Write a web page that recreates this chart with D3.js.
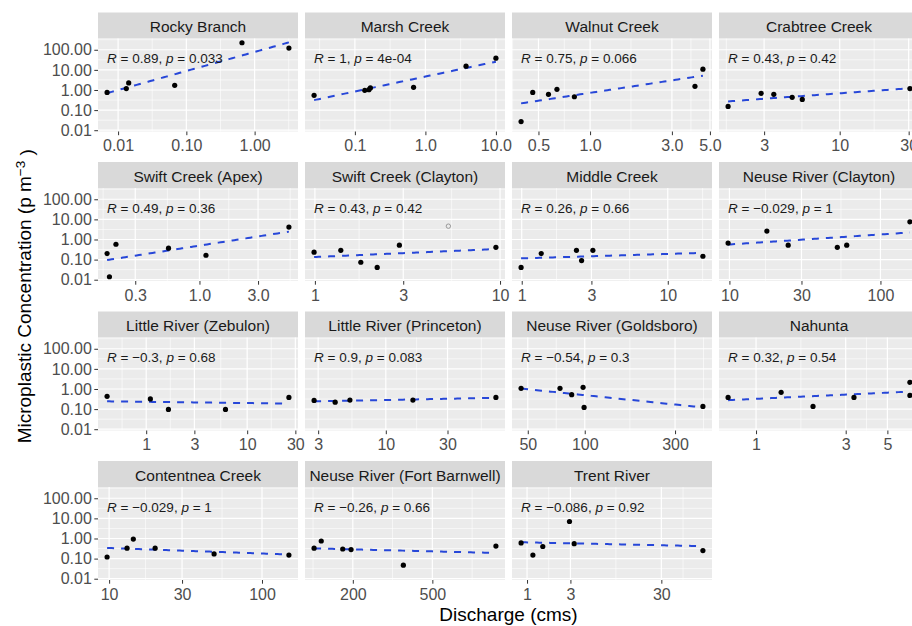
<!DOCTYPE html>
<html>
<head>
<meta charset="utf-8">
<script src="https://cdn.jsdelivr.net/npm/d3@7"></script>
<style>
  body { margin: 0; background: #ffffff; }
  svg { display: block; font-family: "Liberation Sans", Arial, sans-serif; }
</style>
</head>
<body>
<div id="chart"></div>
<script>
// Sites, in facet order
var sites = [
  "Rocky Branch", "Marsh Creek", "Walnut Creek", "Crabtree Creek",
  "Swift Creek (Apex)", "Swift Creek (Clayton)", "Middle Creek", "Neuse River (Clayton)",
  "Little River (Zebulon)", "Little River (Princeton)", "Neuse River (Goldsboro)", "Nahunta",
  "Contentnea Creek", "Neuse River (Fort Barnwell)", "Trent River"
];

// Discharge (cms), one list per site
var discharge = [
  [0.0069, 0.0132, 0.0143, 0.0675, 0.653, 3.18],
  [0.0264, 0.138, 0.158, 0.166, 0.68, 3.77, 10.0],
  [0.396, 0.463, 0.572, 0.641, 0.81, 4.09, 4.55],
  [1.69, 2.86, 3.50, 4.69, 5.51, 30.6],
  [0.177, 0.185, 0.209, 0.56, 1.13, 5.35],
  [0.99, 1.38, 1.77, 2.17, 2.86, 9.5],
  [0.99, 1.36, 2.37, 2.57, 3.07, 17.4],
  [9.8, 17.7, 24.5, 51.8, 59.8, 156.7],
  [0.41, 1.10, 1.66, 6.1, 25.9],
  [2.79, 4.06, 5.28, 16.2, 71],
  [46.1, 74, 85.3, 98, 99.2, 421],
  [0.71, 1.36, 2.01, 3.32, 6.59, 6.59],
  [9.7, 13.1, 14.4, 20, 48.6, 150],
  [128, 139, 178, 196, 358, 1040],
  [0.86, 1.16, 1.49, 2.93, 3.3, 86]
];

// Microplastic concentration (p m^-3), one list per site
var concentration = [
  [0.76, 1.17, 2.24, 1.71, 224, 121],
  [0.54, 0.96, 1.04, 1.26, 1.36, 15.3, 38.3],
  [0.027, 0.76, 0.61, 1.08, 0.46, 1.53, 10.8],
  [0.152, 0.68, 0.61, 0.43, 0.34, 1.17],
  [0.2, 0.014, 0.58, 0.37, 0.165, 4.14],
  [0.233, 0.29, 0.074, 0.041, 0.52, 0.41],
  [0.041, 0.2, 0.29, 0.089, 0.29, 0.147],
  [0.66, 2.61, 0.52, 0.41, 0.52, 7.6],
  [0.43, 0.32, 0.096, 0.096, 0.38],
  [0.27, 0.22, 0.28, 0.28, 0.38],
  [1.08, 1.08, 0.52, 1.21, 0.121, 0.136],
  [0.38, 0.68, 0.136, 0.38, 2.15, 0.48],
  [0.12, 0.33, 0.94, 0.33, 0.17, 0.15],
  [0.33, 0.75, 0.3, 0.28, 0.047, 0.42],
  [0.6, 0.15, 0.4, 7.0, 0.55, 0.25]
];

// Correlation labels
var r_values = ["0.89", "1", "0.75", "0.43", "0.49", "0.43", "0.26", "\u22120.029",
  "\u22120.3", "0.9", "\u22120.54", "0.32", "\u22120.029", "\u22120.26", "\u22120.086"];
var p_values = ["0.033", "4e-04", "0.066", "0.42", "0.36", "0.42", "0.66", "1",
  "0.68", "0.083", "0.3", "0.54", "1", "0.66", "0.92"];

// Excluded observation (open grey circle)
var outlier_site = [5];
var outlier_x = [5.26];
var outlier_y = [4.6];

// Axis breaks
var x_ticks = [
  [0.01, 0.1, 1], [0.1, 1, 10], [0.5, 1, 3, 5], [3, 10, 30],
  [0.3, 1, 3], [1, 3, 10], [1, 3, 10], [10, 30, 100],
  [1, 3, 10, 30], [3, 10, 30], [50, 100, 300], [1, 3, 5],
  [10, 30, 100], [200, 500], [1, 3, 30]
];
var x_tick_labels = [
  ["0.01", "0.10", "1.00"], ["0.1", "1.0", "10.0"], ["0.5", "1.0", "3.0", "5.0"], ["3", "10", "30"],
  ["0.3", "1.0", "3.0"], ["1", "3", "10"], ["1", "3", "10"], ["10", "30", "100"],
  ["1", "3", "10", "30"], ["3", "10", "30"], ["50", "100", "300"], ["1", "3", "5"],
  ["10", "30", "100"], ["200", "500"], ["1", "3", "30"]
];
var y_ticks = [0.01, 0.1, 1, 10, 100];
var y_tick_labels = ["0.01", "0.10", "1.00", "10.00", "100.00"];

var create_chart = function() {
  // Layout
  var width = 912, height = 626;
  var ncol = 4;
  var left = 98, top = 12.5;
  var panel_width = 200, panel_height = 93;
  var strip_height = 26;
  var col_step = 207, row_step = 149.5;
  var tick_len = 3.7;

  var svg = d3.select("#chart").append("svg")
      .attr("width", width)
      .attr("height", height);

  // ggplot style expansion in log space
  var expand_log = function(values) {
    var ext = d3.extent(values, function(v) { return Math.log10(v); });
    var pad = (ext[1] - ext[0]) * 0.05;
    return [Math.pow(10, ext[0] - pad), Math.pow(10, ext[1] + pad)];
  };

  var minor_breaks = function(majors, domain) {
    var b = majors.map(function(v) { return Math.log10(v); });
    var lim = domain.map(function(v) { return Math.log10(v); });
    var bd = b[1] - b[0];
    if (lim[0] < b[0]) b.unshift(b[0] - bd);
    if (lim[1] > b[b.length - 1]) b.push(b[b.length - 1] + bd);
    var out = [];
    for (var i = 0; i < b.length - 1; i++) out.push((b[i] + b[i + 1]) / 2);
    return out.filter(function(v) { return v >= lim[0] && v <= lim[1]; })
      .map(function(v) { return Math.pow(10, v); });
  };

  var all_y = d3.merge(concentration);
  var y_scale = d3.scaleLog()
      .domain(expand_log(all_y))
      .range([panel_height, 0]);
  var y_minor = minor_breaks(y_ticks, y_scale.domain());

  sites.forEach(function(site, i) {
    var col = i % ncol, row = Math.floor(i / ncol);
    var x0 = left + col * col_step;
    var strip_y = top + row * row_step;
    var y0 = strip_y + strip_height;

    var xs = discharge[i], ys = concentration[i];
    var x_scale = d3.scaleLog()
        .domain(expand_log(xs))
        .range([0, panel_width]);

    // Strip
    svg.append("rect")
        .attr("x", x0).attr("y", strip_y)
        .attr("width", panel_width).attr("height", strip_height)
        .attr("fill", "#d9d9d9");
    svg.append("text")
        .attr("x", x0 + panel_width / 2)
        .attr("y", strip_y + 19.5)
        .attr("text-anchor", "middle")
        .attr("font-size", "15.5px")
        .attr("fill", "#1a1a1a")
        .text(site);

    var g = svg.append("g")
        .attr("transform", "translate(" + x0 + "," + y0 + ")");

    g.append("rect")
        .attr("width", panel_width).attr("height", panel_height)
        .attr("fill", "#ebebeb");

    // Minor grid
    minor_breaks(x_ticks[i], x_scale.domain()).forEach(function(v) {
      g.append("line")
          .attr("x1", x_scale(v)).attr("x2", x_scale(v))
          .attr("y1", 0).attr("y2", panel_height)
          .attr("stroke", "#ffffff").attr("stroke-width", 0.6);
    });
    y_minor.forEach(function(v) {
      g.append("line")
          .attr("x1", 0).attr("x2", panel_width)
          .attr("y1", y_scale(v)).attr("y2", y_scale(v))
          .attr("stroke", "#ffffff").attr("stroke-width", 0.6);
    });

    // Major grid
    x_ticks[i].forEach(function(v) {
      g.append("line")
          .attr("x1", x_scale(v)).attr("x2", x_scale(v))
          .attr("y1", 0).attr("y2", panel_height)
          .attr("stroke", "#ffffff").attr("stroke-width", 1.2);
    });
    y_ticks.forEach(function(v) {
      g.append("line")
          .attr("x1", 0).attr("x2", panel_width)
          .attr("y1", y_scale(v)).attr("y2", y_scale(v))
          .attr("stroke", "#ffffff").attr("stroke-width", 1.2);
    });

    // Linear fit on log10 values
    var lx = xs.map(function(v) { return Math.log10(v); });
    var ly = ys.map(function(v) { return Math.log10(v); });
    var mx = d3.mean(lx), my = d3.mean(ly);
    var sxy = d3.sum(lx, function(v, k) { return (v - mx) * (ly[k] - my); });
    var sxx = d3.sum(lx, function(v) { return (v - mx) * (v - mx); });
    var slope = sxy / sxx, intercept = my - slope * mx;
    var ext = d3.extent(lx);
    var fit = d3.range(0, 81).map(function(k) {
      var lv = ext[0] + (ext[1] - ext[0]) * k / 80;
      return [Math.pow(10, lv), Math.pow(10, intercept + slope * lv)];
    });
    g.append("path")
        .datum(fit)
        .attr("fill", "none")
        .attr("stroke", "#2747d8")
        .attr("stroke-width", 2)
        .attr("stroke-dasharray", "7,7")
        .attr("d", d3.line()
          .x(function(d) { return x_scale(d[0]); })
          .y(function(d) { return y_scale(d[1]); }));

    // Points
    g.selectAll("circle.pt")
        .data(xs.map(function(v, k) { return [v, ys[k]]; }))
        .enter().append("circle")
        .attr("class", "pt")
        .attr("cx", function(d) { return x_scale(d[0]); })
        .attr("cy", function(d) { return y_scale(d[1]); })
        .attr("r", 2.6)
        .attr("fill", "#000000");

    outlier_site.forEach(function(s, k) {
      if (s !== i) return;
      g.append("circle")
          .attr("cx", x_scale(outlier_x[k]))
          .attr("cy", y_scale(outlier_y[k]))
          .attr("r", 2.2)
          .attr("fill", "none")
          .attr("stroke", "#9a9a9a")
          .attr("stroke-width", 1);
    });

    // Correlation label
    var label = g.append("text")
        .attr("x", x_scale(d3.min(xs)))
        .attr("y", 24.5)
        .attr("font-size", "13.5px")
        .attr("fill", "#1a1a1a");
    label.append("tspan").attr("font-style", "italic").text("R");
    label.append("tspan").text(" = " + r_values[i] + ", ");
    label.append("tspan").attr("font-style", "italic").text("p");
    label.append("tspan").text(" = " + p_values[i]);

    // X axis
    var x_axis = g.append("g")
        .attr("transform", "translate(0," + panel_height + ")")
        .call(d3.axisBottom(x_scale)
          .tickValues(x_ticks[i])
          .tickFormat(function(d, k) { return x_tick_labels[i][k]; })
          .tickSize(tick_len)
          .tickPadding(4.5));
    style_axis(x_axis);

    // Y axis on first column only
    if (col === 0) {
      var y_axis = g.append("g")
          .call(d3.axisLeft(y_scale)
            .tickValues(y_ticks)
            .tickFormat(function(d, k) { return y_tick_labels[k]; })
            .tickSize(tick_len)
            .tickPadding(2.5));
      style_axis(y_axis);
    }
  });

  function style_axis(axis) {
    axis.select(".domain").remove();
    axis.selectAll(".tick line").attr("stroke", "#333333").attr("stroke-width", 1);
    axis.selectAll(".tick text")
        .attr("fill", "#4d4d4d")
        .attr("font-size", "16px")
        .attr("font-family", "Liberation Sans, Arial, sans-serif");
  }

  // Axis titles
  svg.append("text")
      .attr("x", left + (3 * col_step + panel_width) / 2)
      .attr("y", 621)
      .attr("text-anchor", "middle")
      .attr("font-size", "19px")
      .attr("fill", "#000000")
      .text("Discharge (cms)");

  var y_title = svg.append("text")
      .attr("transform", "translate(31," + (top + (3 * row_step + strip_height + panel_height) / 2) + ") rotate(-90)")
      .attr("text-anchor", "middle")
      .attr("font-size", "19px")
      .attr("fill", "#000000");
  y_title.append("tspan").text("Microplastic Concentration (p m");
  y_title.append("tspan").attr("dy", "-0.45em").attr("font-size", "13.5px").text("\u22123");
  y_title.append("tspan").attr("dy", "0.45em").text(" )");
};

create_chart();
</script>
</body>
</html>
